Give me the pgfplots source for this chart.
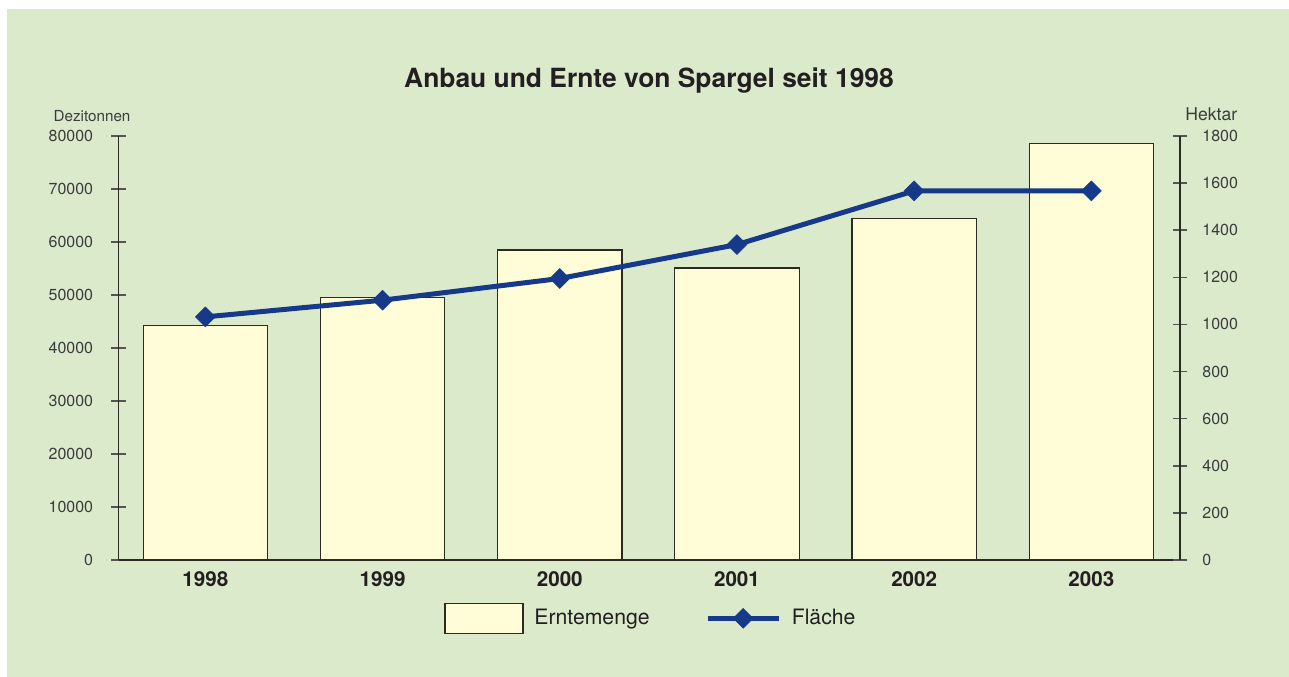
\documentclass[border=0pt]{standalone}
\usepackage{fontspec}
\setmainfont{TeX Gyre Heros}
\usepackage{pgfplots}
\pgfplotsset{compat=1.18}
\definecolor{bgreen}{RGB}{218,234,203}
\definecolor{barfill}{RGB}{255,252,216}
\definecolor{barline}{RGB}{45,42,35}
\definecolor{lblue}{RGB}{22,57,138}
\definecolor{txt}{RGB}{35,31,32}
\definecolor{ticktxt}{RGB}{60,60,60}
\definecolor{tickc}{RGB}{85,85,85}
\pgfplotsset{
  flegend/.style={legend image code/.code={\draw[##1, mark repeat=2, mark phase=2] plot coordinates {(0bp,0bp) (17.75bp,0bp) (35.5bp,0bp)};}},
  blegend/.style={legend image code/.code={\draw[fill=barfill, draw=barline, line width=0.75bp] (0bp,-7.5bp) rectangle (39bp,7.5bp);}},
}
\begin{document}
\begin{tikzpicture}
\useasboundingbox (0,0) rectangle (644.5bp,338.5bp);
\fill[white] (0,0) rectangle (644.5bp,338.5bp);
\fill[bgreen] (3.5bp,0) rectangle (644.5bp,334bp);
\node[anchor=base, text=txt, font=\fontsize{13.2bp}{15bp}\selectfont\bfseries] at (324.5bp,294.85bp) {Anbau und Ernte von Spargel seit 1998};
\node[anchor=base west, inner sep=0pt, text=ticktxt, font=\fontsize{7.6bp}{9bp}\selectfont] at (26.65bp,277.65bp) {Dezitonnen};
\node[anchor=base west, inner sep=0pt, text=ticktxt, font=\fontsize{8.8bp}{10bp}\selectfont] at (592.5bp,278bp) {Hektar};
\begin{axis}[
  at={(59.25bp,58.5bp)}, anchor=south west,
  scale only axis, width=530.75bp, height=212bp,
  xmin=-0.49, xmax=5.5, ymin=0, ymax=80000,
  axis x line*=bottom, axis y line*=left,
  axis line style={-, line width=0.75bp, color=barline},
  xtick={0,1,2,3,4,5},
  xticklabels={1998,1999,2000,2001,2002,2003},
  x tick style={draw=none},
  xticklabel style={font=\fontsize{10.3bp}{12bp}\selectfont\bfseries, text=txt, yshift=1.5bp},
  ytick={0,10000,...,80000},
  scaled y ticks=false,
  yticklabel={\pgfmathprintnumber[fixed, 1000 sep={}]{\tick}},
  /pgf/number format/assume math mode=true,
  yticklabel style={font=\fontsize{8bp}{9bp}\selectfont, text=ticktxt, xshift=-5.5bp},
  y tick style={line width=0.75bp, color=tickc},
  tick align=center, major tick length=7.35bp,
  clip=false,
]
\addplot[ybar, bar width=62.2bp, bar shift=0pt, fill=barfill, draw=barline, line width=0.6bp]
  coordinates {(0,44300) (1,49500) (2,58500) (3,55100) (4,64500) (5,78550)};
\end{axis}
\begin{axis}[
  at={(59.25bp,58.5bp)}, anchor=south west,
  scale only axis, width=530.75bp, height=212bp,
  xmin=-0.49, xmax=5.5, ymin=0, ymax=1800,
  axis x line=none, axis y line*=right,
  axis line style={-, line width=0.75bp, color=barline},
  ytick={0,200,...,1800},
  yticklabel={\pgfmathprintnumber[fixed, 1000 sep={}]{\tick}},
  /pgf/number format/assume math mode=true,
  yticklabel style={font=\fontsize{8bp}{9bp}\selectfont, text=ticktxt, xshift=4bp},
  y tick style={line width=0.75bp, color=tickc},
  tick align=center, major tick length=7.35bp,
  clip=false,
  legend columns=2,
  legend style={at={(0.3069,-0.1375)}, anchor=west, draw=none, fill=none,
    inner sep=0pt, outer sep=0pt,
    font=\fontsize{10.6bp}{12bp}\selectfont, text=txt,
    nodes={inner sep=0pt},
    /tikz/every odd column/.append style={column sep=5.35bp},
    /tikz/every even column/.append style={column sep=27.75bp}},
]
\addlegendimage{blegend}
\addlegendentry{Erntemenge}
\addplot[color=lblue, line width=2.5bp, mark=square*, mark size=3.5bp,
  mark options={rotate=45, solid, line width=0.3bp, fill=lblue}, flegend]
  coordinates {(0,1032) (1,1103) (2,1195) (3,1339) (4,1567) (5,1567)};
\addlegendentry{Fläche}
\end{axis}
\end{tikzpicture}
\end{document}
